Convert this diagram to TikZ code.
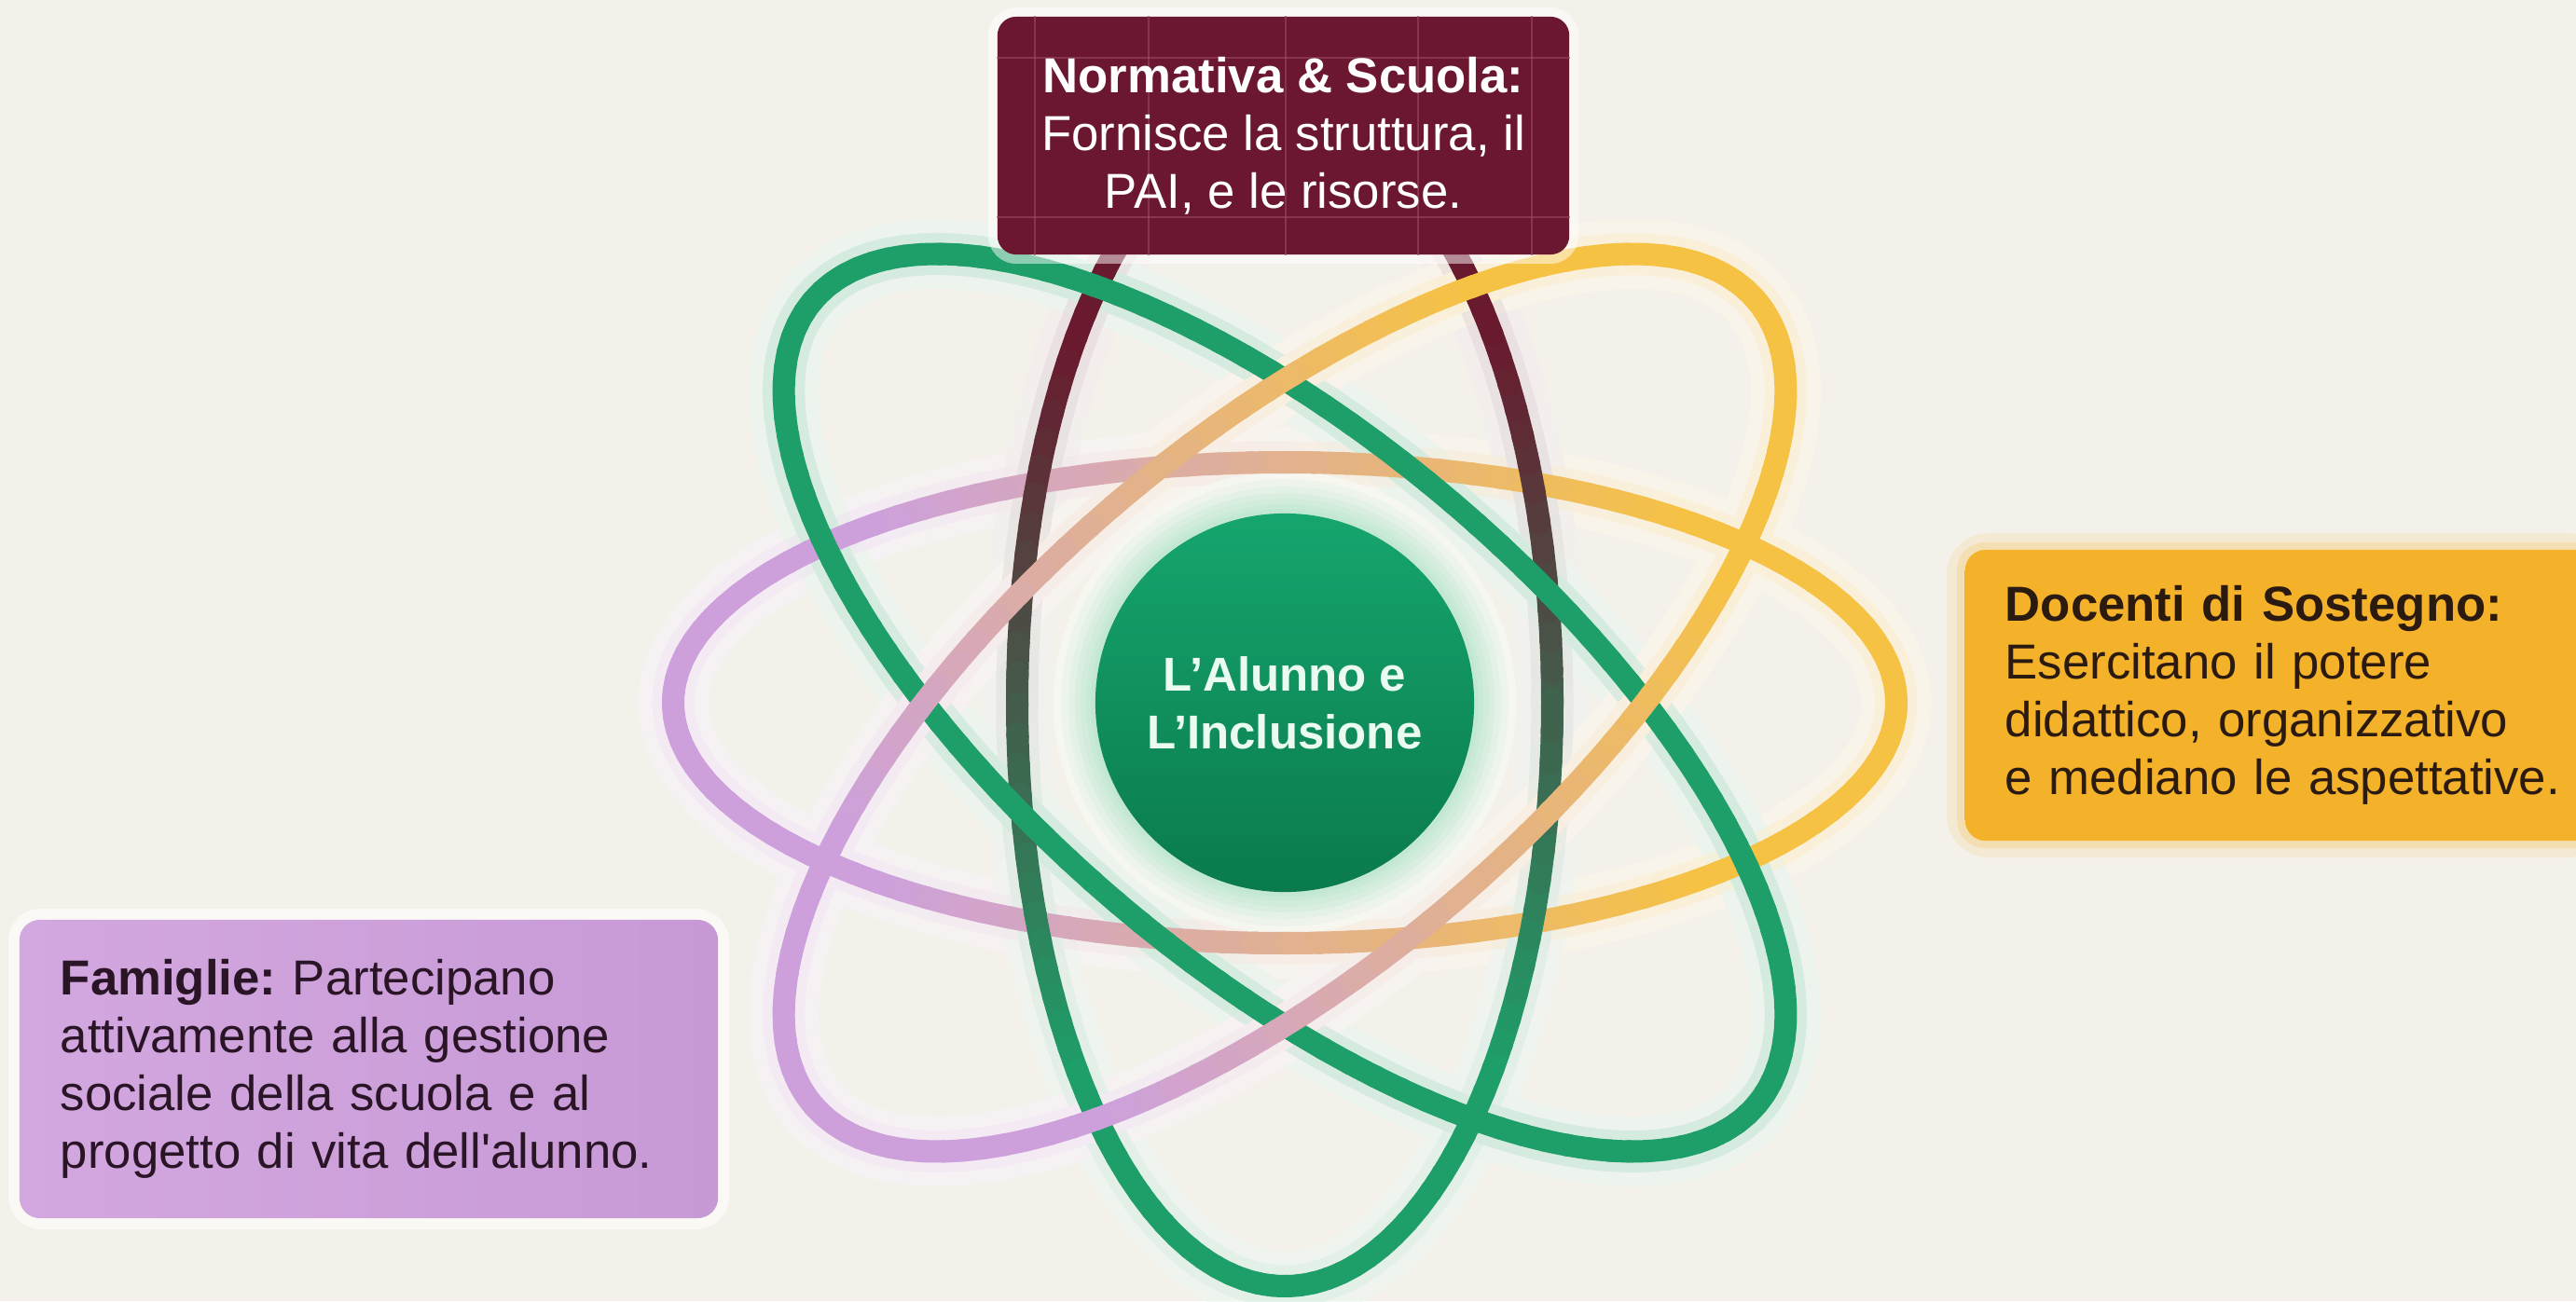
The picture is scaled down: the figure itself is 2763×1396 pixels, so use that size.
\documentclass[tikz,border=0pt]{standalone}
\usepackage{fontspec}
\setmainfont{Liberation Sans}
\setsansfont{Liberation Sans}
\usetikzlibrary{calc}
\definecolor{bg}{HTML}{F4F1EA}
\definecolor{boxmaroon}{HTML}{6B1730}
\definecolor{gridc}{HTML}{9A4A60}
\definecolor{ringgreen}{HTML}{1E9E68}
\definecolor{ringyellow}{HTML}{F6C244}
\definecolor{ringpurple}{HTML}{CDA0DC}
\definecolor{ringmaroon}{HTML}{6A1A2E}
\definecolor{coretop}{HTML}{16A56E}
\definecolor{corebot}{HTML}{0A7A4C}
\definecolor{coretext}{HTML}{EAFBF1}
\definecolor{halo}{HTML}{BFE8D0}
\definecolor{haloout}{HTML}{F7F8F2}
\definecolor{ybox1}{HTML}{F4B22A}
\definecolor{ybox2}{HTML}{FCD872}
\definecolor{ytext}{HTML}{2B1A0F}
\definecolor{pbox1}{HTML}{D3A7DF}
\definecolor{pbox2}{HTML}{E4C9EC}
\definecolor{pbox3}{HTML}{C79AD6}
\definecolor{ptext}{HTML}{2A1527}
\newcommand{\myring}[8]{%
  \begin{scope}[shift={(1378,642)},rotate=#1]
    \foreach \t in {0,3,...,357}{%
      \pgfmathtruncatemacro\ringpct{max(0,min(100,#6))}%
      \draw[#7, draw=#4!\ringpct!#5!#8] ({#2*cos(\t)},{#3*sin(\t)}) arc[start angle=\t, delta angle=3.4, x radius=#2, y radius=#3];
    }
  \end{scope}}
\tikzset{
  ringline/.style={line width=0.24cm, line cap=round},
  glowline/.style={line width=0.75cm, line cap=round},
  glowlinein/.style={line width=0.45cm, line cap=round},
  boxtext/.style={font=\fontsize{15}{17.6}\selectfont},
  gridline/.style={draw=gridc, line width=0.7pt, opacity=0.6},
}
\frenchspacing
\begin{document}
\begin{tikzpicture}[x=0.01cm,y=0.01cm]
\useasboundingbox (0,0) rectangle (2763,1396);
\fill[bg] (0,0) rectangle (2763,1396);
\coordinate (c) at (1378,642);

% soft light glow of the rings
\begin{scope}[transparency group, opacity=0.55]
  \myring{0}{656}{258}{ringyellow}{ringpurple}{50+75*cos(\t)}{glowline}{12}
  \myring{0}{287}{626}{ringmaroon}{ringgreen}{50+80*sin(\t)}{glowline}{8}
  \myring{-40.5}{665}{280}{ringgreen}{ringgreen}{100}{glowline}{10}
  \myring{40.5}{665}{280}{ringyellow}{ringpurple}{50+75*cos(\t)}{glowline}{12}
\end{scope}
\begin{scope}[transparency group, opacity=0.45]
  \myring{0}{656}{258}{ringyellow}{ringpurple}{50+75*cos(\t)}{glowlinein}{30}
  \myring{0}{287}{626}{ringmaroon}{ringgreen}{50+80*sin(\t)}{glowlinein}{20}
  \myring{-40.5}{665}{280}{ringgreen}{ringgreen}{100}{glowlinein}{30}
  \myring{40.5}{665}{280}{ringyellow}{ringpurple}{50+75*cos(\t)}{glowlinein}{30}
\end{scope}

% halo round the core
\fill[haloout, opacity=0.9] (c) circle (248);
\foreach \r/\o in {240/0.15,232/0.2,225/0.25,219/0.3,213/0.4,208/0.5}
  \fill[halo, opacity=\o] (c) circle (\r);

% rings
\myring{0}{656}{258}{ringyellow}{ringpurple}{50+75*cos(\t)}{ringline}{100}
\myring{0}{287}{626}{ringmaroon}{ringgreen}{50+80*sin(\t)}{ringline}{100}
\myring{-40.5}{665}{280}{ringgreen}{ringgreen}{100}{ringline}{100}
\myring{40.5}{665}{280}{ringyellow}{ringpurple}{50+75*cos(\t)}{ringline}{100}

% core
\node[circle, minimum size=4.06cm, inner sep=0, top color=coretop, bottom color=corebot,
      text=coretext, align=center, font=\bfseries\fontsize{14.5}{17.6}\selectfont] (core) at (c)
      {L’Alunno e\\L’Inclusione};

% top box
\fill[white, opacity=0.5, rounded corners=0.3cm] (1060,1113) rectangle (1693,1388);
\node[fill=boxmaroon, rounded corners=0.2cm, minimum width=6.13cm, minimum height=2.55cm, inner sep=0] (ntop) at (1376.5,1250.5) {};
\begin{scope}
  \clip[rounded corners=0.2cm] (ntop.south west) rectangle (ntop.north east);
  \foreach \gx in {1110,1232,1379,1521,1643} \draw[gridline] (\gx,1100) -- (\gx,1400);
  \foreach \gy in {1334,1163} \draw[gridline] (1000,\gy) -- (1750,\gy);
\end{scope}
\node[text=white, align=center, boxtext] (ntoptext) at (ntop)
  {\textbf{Normativa \& Scuola:}\\Fornisce la struttura, il\\PAI, e le risorse.};

% right box
\fill[ybox1, opacity=0.12, rounded corners=0.45cm] (2088,476) rectangle (2800,824);
\fill[ybox1, opacity=0.18, rounded corners=0.3cm] (2099,486) rectangle (2800,814);
\node[anchor=west, rounded corners=0.22cm, minimum height=3.12cm, text width=6.3cm, inner xsep=0.43cm,
      align=left, left color=ybox1, middle color=ybox2, right color=ybox1, text=ytext, boxtext] (nright) at (2107,650)
  {\textbf{Docenti di Sostegno:}\\Esercitano il potere\\didattico, organizzativo\\e mediano le aspettative.};

% left box
\fill[white, opacity=0.6, rounded corners=0.35cm] (9,77) rectangle (782,421);
\node[rounded corners=0.22cm, minimum width=7.49cm, minimum height=3.2cm, text width=6.61cm, inner xsep=0.44cm,
      align=left, left color=pbox1, middle color=pbox2, right color=pbox3, text=ptext, boxtext] (nleft) at (395.5,249)
  {\textbf{Famiglie:} Partecipano\\attivamente alla gestione\\sociale della scuola e al\\progetto di vita dell\textquotesingle alunno.};
\end{tikzpicture}
\end{document}
